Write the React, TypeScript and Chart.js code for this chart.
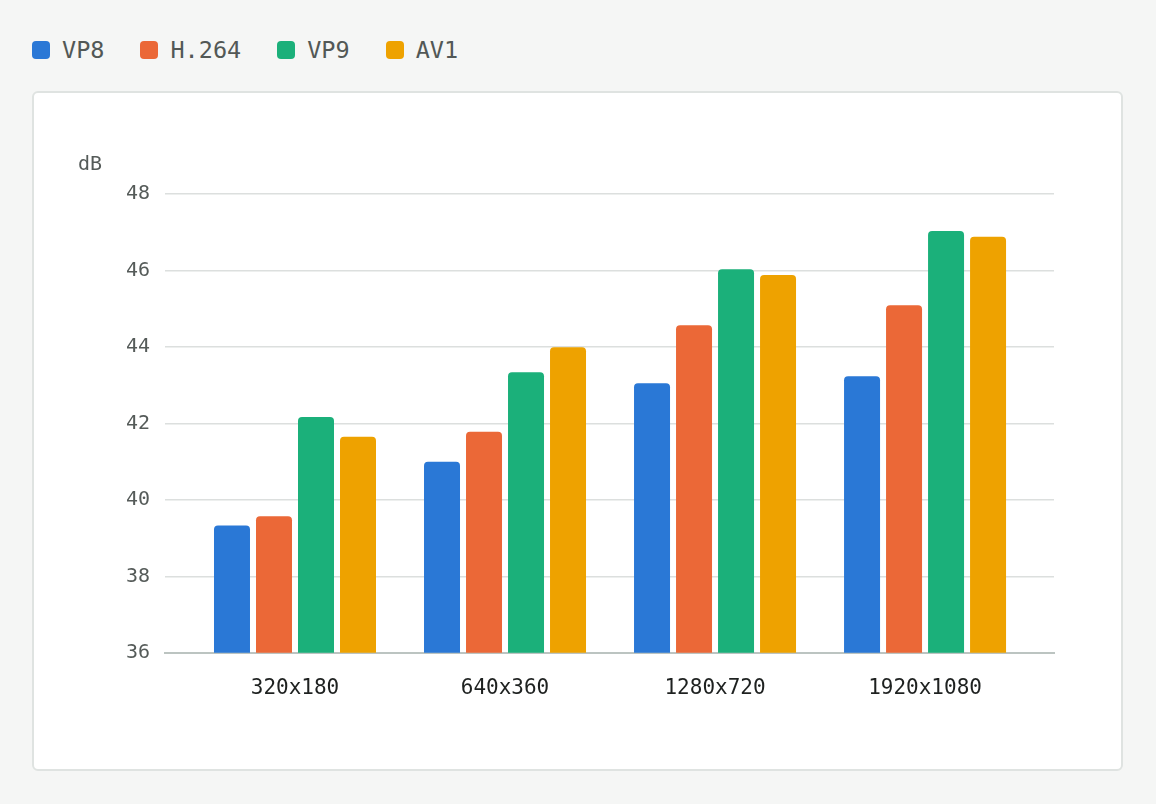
import React, { useEffect, useRef } from 'react';
import { Chart, registerables } from 'chart.js';

Chart.register(...registerables);

const resolutions = ['320x180', '640x360', '1280x720', '1920x1080'];
const codecs = ['VP8', 'H.264', 'VP9', 'AV1'];
const codecColors = ['#2a78d6', '#eb6837', '#1bb07a', '#eea200'];

const vp8 = [39.33, 41.0, 43.05, 43.23];
const h264 = [39.57, 41.78, 44.57, 45.09];
const vp9 = [42.17, 43.34, 46.03, 47.03];
const av1 = [41.65, 43.99, 45.88, 46.88];
const seriesValues = [vp8, h264, vp9, av1];

const yTicks = [36, 38, 40, 42, 44, 46, 48];
const unitLabel = 'dB';

const MONO = '"DejaVu Sans Mono", monospace';

const unitPlugin = {
  id: 'unitLabel',
  afterDraw(chart: Chart) {
    const { ctx, chartArea } = chart;
    ctx.save();
    ctx.font = `20px ${MONO}`;
    ctx.fillStyle = '#555b59';
    ctx.textAlign = 'left';
    ctx.textBaseline = 'middle';
    ctx.fillText(unitLabel, chartArea.left - 87, chartArea.top - 29);
    ctx.restore();
  },
};

const App: React.FC = () => {
  const canvasRef = useRef<HTMLCanvasElement>(null);

  useEffect(() => {
    document.body.style.margin = '0';
    document.body.style.background = '#f5f6f5';
    if (!canvasRef.current) return;

    const chart = new Chart(canvasRef.current, {
      type: 'bar',
      data: {
        datasets: codecs.map((name, i) => ({
          label: name,
          data: seriesValues[i].map((v, j) => ({ x: j, y: v })),
          backgroundColor: codecColors[i],
          borderRadius: { topLeft: 4, topRight: 4, bottomLeft: 0, bottomRight: 0 },
          borderSkipped: false,
          categoryPercentage: 0.8,
          barPercentage: 0.857,
        })),
      },
      options: {
        responsive: true,
        maintainAspectRatio: false,
        animation: false,
        layout: { padding: { left: 44, right: 67, top: 101, bottom: 53 } },
        plugins: {
          legend: { display: false },
          title: { display: false },
          tooltip: { enabled: false },
        },
        scales: {
          x: {
            type: 'linear',
            offset: false,
            min: -0.619,
            max: 3.614,
            afterBuildTicks(scale: any) {
              scale.ticks = resolutions.map((_, j) => ({ value: j }));
            },
            grid: { display: false, offset: false },
            border: { display: true, color: '#bcc4c1', width: 2 },
            ticks: {
              color: '#1e2120',
              font: { family: MONO, size: 21 },
              padding: 15,
              maxRotation: 0,
              autoSkip: false,
              callback: (value: any) => resolutions[Number(value)] ?? '',
            },
          },
          y: {
            min: yTicks[0],
            max: yTicks[yTicks.length - 1],
            afterFit(scale: any) {
              scale.width = 87;
            },
            afterBuildTicks(scale: any) {
              scale.ticks = yTicks.map(v => ({ value: v }));
            },
            grid: { color: '#dcdfde', lineWidth: 1.5, drawTicks: false },
            border: { display: false },
            ticks: {
              color: '#555b59',
              font: { family: MONO, size: 20 },
              padding: 15,
            },
          },
        },
      },
      plugins: [unitPlugin],
    });

    return () => {
      chart.destroy();
    };
  }, []);

  return (
    <div style={{ width: 1156, height: 804, background: '#f5f6f5', padding: '32px 0 0 32px', boxSizing: 'border-box', fontFamily: MONO }}>
      <div style={{ display: 'flex', alignItems: 'center', height: 36 }}>
        {codecs.map((name, i) => (
          <div key={name} style={{ display: 'flex', alignItems: 'center', marginRight: 36 }}>
            <span style={{ width: 18, height: 18, borderRadius: 4, background: codecColors[i], display: 'inline-block', marginRight: 12 }} />
            <span style={{ fontSize: 23.5, color: '#525856', lineHeight: '36px' }}>{name}</span>
          </div>
        ))}
      </div>
      <div
        style={{
          marginTop: 23,
          width: 1091,
          height: 680,
          boxSizing: 'border-box',
          border: '2px solid #dfe3e1',
          borderRadius: 6,
          background: '#ffffff',
        }}
      >
        <div style={{ position: 'relative', width: 1087, height: 676 }}>
          <canvas ref={canvasRef} />
        </div>
      </div>
    </div>
  );
};

export default App;
